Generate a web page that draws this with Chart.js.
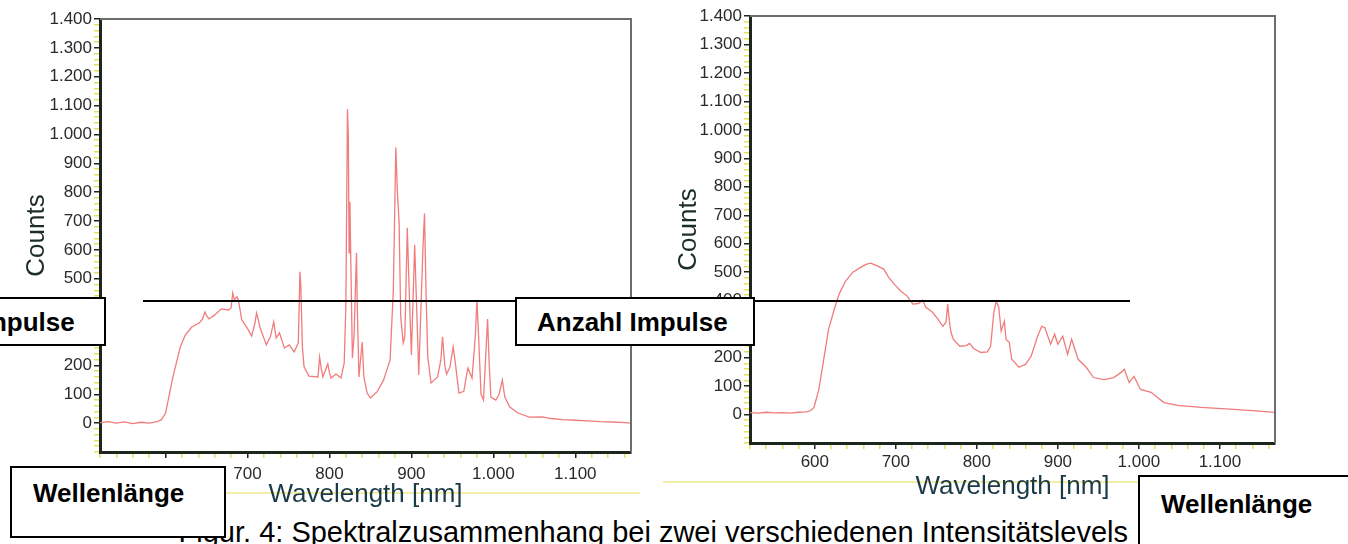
<!DOCTYPE html>
<html>
<head>
<meta charset="utf-8">
<script src="https://cdn.jsdelivr.net/npm/chart.js@4.4.1/dist/chart.umd.min.js"></script>
<style>
  body { margin: 0; background: #fff; }
  #wrap { position: relative; width: 1348px; height: 544px; overflow: hidden; font-family: "Liberation Sans", Arial, sans-serif; }
  canvas { position: absolute; top: 0; }
  .rule { position: absolute; }
  .box { position: absolute; background: #fff; border: 2px solid #000; box-sizing: border-box; font-weight: bold; font-size: 26px; color: #000; white-space: nowrap; }
  .caption { position: absolute; font-size: 29px; line-height: 29px; color: #000; white-space: nowrap; }
</style>
</head>
<body>
<div id="wrap">
  <div class="rule" style="left:10px; top:492px; width:630px; height:2px; background:#f4efa6;"></div>
  <div class="rule" style="left:663px; top:481px; width:627px; height:2px; background:#f4efa6;"></div>
  <canvas id="leftChart" width="650" height="510" style="left:0;"></canvas>
  <canvas id="rightChart" width="698" height="500" style="left:650px;"></canvas>
  <div class="caption" style="right:220px; top:518px;">Figur. 4: Spektralzusammenhang bei zwei verschiedenen Intensitätslevels</div>
  <div class="rule" style="left:143px; top:300px; width:987px; height:2px; background:#000;"></div>
  <div class="box" style="left:-138px; top:297px; width:244px; height:49px; padding:8px 0 0 20px;">Anzahl Impulse</div>
  <div class="box" style="left:515px; top:297px; width:240px; height:49px; padding:8px 0 0 20px;">Anzahl Impulse</div>
  <div class="box" style="left:10px; top:466px; width:216px; height:72px; padding:10px 0 0 21px;">Wellenlänge</div>
  <div class="box" style="left:1138px; top:475px; width:220px; height:80px; padding:12px 0 0 21px;">Wellenlänge</div>
</div>
<script>
// spectrum 1 (higher intensity, line peaks)
var leftWavelength = [520, 530, 540, 550, 560, 570, 580, 590, 595, 600, 605, 609, 612, 618, 624, 632, 641, 645, 648, 650, 653, 660, 668, 677, 680, 682, 684, 687, 689, 693, 701, 705, 709, 711, 713, 715, 723, 728, 732, 735, 739, 745, 751, 757, 762, 764, 765, 767, 769, 775, 786, 788, 790, 792, 796, 798, 800, 802, 808, 814, 818, 820, 822, 823, 824, 825, 826, 828, 830, 833, 834, 836, 840, 842, 846, 850, 858, 866, 874, 878, 881, 883, 885, 887, 890, 892, 895, 897, 900, 904, 906, 909, 914, 916, 918, 920, 924, 932, 936, 938, 941, 943, 947, 951, 954, 958, 964, 967, 969, 974, 978, 980, 982, 985, 988, 991, 993, 995, 997, 1003, 1007, 1011, 1014, 1020, 1030, 1044, 1060, 1070, 1085, 1100, 1115, 1130, 1145, 1160, 1168];
var leftCounts = [2, 5, 0, 4, -2, 3, 0, 5, 12, 35, 104, 160, 195, 264, 305, 333, 347, 360, 385, 372, 361, 375, 396, 392, 400, 451, 427, 438, 425, 358, 323, 302, 345, 382, 360, 333, 271, 300, 351, 295, 313, 260, 271, 247, 278, 524, 480, 264, 195, 163, 160, 229, 190, 160, 190, 205, 175, 156, 170, 156, 208, 400, 1087, 1000, 590, 767, 576, 226, 300, 590, 400, 160, 281, 160, 104, 87, 108, 149, 219, 462, 955, 800, 694, 368, 278, 300, 677, 486, 236, 618, 438, 167, 600, 726, 438, 229, 139, 160, 220, 299, 194, 170, 194, 264, 200, 104, 110, 160, 191, 156, 300, 427, 300, 100, 80, 250, 361, 200, 90, 80, 100, 149, 90, 56, 35, 21, 22, 16, 12, 10, 8, 5, 4, 2, 0];

// spectrum 2 (lower intensity, broad)
var rightWavelength = [520, 530, 540, 550, 560, 570, 580, 590, 595, 599, 605, 611, 617, 624, 630, 638, 647, 657, 664, 669, 677, 685, 691, 698, 706, 714, 721, 728, 733, 737, 745, 752, 758, 762, 764, 766, 768, 771, 779, 787, 791, 796, 805, 813, 817, 821, 824, 827, 830, 834, 836, 840, 843, 852, 860, 867, 875, 880, 884, 891, 896, 900, 906, 912, 917, 925, 935, 944, 957, 969, 978, 982, 988, 994, 1002, 1015, 1031, 1048, 1077, 1117, 1140, 1169];
var rightCounts = [7, 5, 8, 6, 7, 5, 8, 9, 14, 25, 88, 194, 300, 370, 423, 469, 500, 518, 528, 532, 522, 511, 483, 458, 434, 416, 388, 390, 402, 377, 360, 335, 310, 325, 388, 330, 290, 264, 240, 242, 250, 232, 218, 220, 240, 360, 398, 377, 293, 328, 264, 254, 194, 166, 176, 205, 275, 310, 305, 247, 282, 247, 275, 212, 264, 194, 166, 130, 123, 130, 148, 159, 113, 134, 88, 78, 42, 32, 25, 18, 14, 7];

var wavelengthRange = [520, 1168];
var countsRange = [-100, 1400];

function dotted(v) {
    return String(v).replace(/\B(?=(\d{3})+(?!\d))/g, '.');
}

function toPoints(xs, ys) {
    return xs.map(function (x, i) { return { x: x, y: ys[i] }; });
}

// top and right edge of the plot frame
var framePlugin = {
    id: 'frame',
    afterDraw: function (chart) {
        var a = chart.chartArea, ctx = chart.ctx;
        ctx.save();
        ctx.strokeStyle = '#6a6f6a';
        ctx.lineWidth = 2;
        ctx.beginPath();
        ctx.moveTo(a.left, a.top);
        ctx.lineTo(a.right, a.top);
        ctx.lineTo(a.right, a.bottom);
        ctx.stroke();
        ctx.restore();
    }
};

function makeChart(id, xs, ys, pad, xHeight, titlePad, countsPad, xLabelPad) {
    var ctx = document.getElementById(id).getContext('2d');
    return new Chart(ctx, {
        type: 'line',
        data: {
            datasets: [{
                data: toPoints(xs, ys),
                borderColor: '#f07c7c',
                borderWidth: 1.3,
                pointRadius: 0,
                tension: 0,
                fill: false
            }]
        },
        options: {
            responsive: false,
            animation: false,
            layout: { padding: pad },
            plugins: { legend: { display: false }, tooltip: { enabled: false } },
            scales: {
                x: {
                    type: 'linear',
                    min: wavelengthRange[0],
                    max: wavelengthRange[1],
                    afterFit: function (s) { s.height = xHeight; },
                    border: { color: '#1c261c', width: 3 },
                    grid: {
                        drawOnChartArea: false,
                        tickLength: 6,
                        lineWidth: 1.5,
                        tickColor: function (c) { return c.tick && c.tick.value % 100 === 0 ? '#1c261c' : '#e6df5a'; }
                    },
                    ticks: {
                        stepSize: 20,
                        includeBounds: false,
                        autoSkip: false,
                        maxRotation: 0,
                        padding: xLabelPad,
                        color: '#2a2a2a',
                        font: { family: 'Liberation Sans', size: 17 },
                        callback: function (v) { return v % 100 === 0 ? dotted(v) : ''; }
                    },
                    title: {
                        display: true,
                        text: 'Wavelength [nm]',
                        color: '#1b3a48',
                        font: { family: 'Liberation Sans', size: 26, lineHeight: 1 },
                        padding: { top: 0, bottom: titlePad }
                    }
                },
                y: {
                    min: countsRange[0],
                    max: countsRange[1],
                    afterFit: function (s) { s.width = 100; },
                    border: { color: '#1c261c', width: 3 },
                    grid: {
                        drawOnChartArea: false,
                        tickLength: 6,
                        lineWidth: 1.5,
                        tickColor: function (c) { return c.tick && c.tick.value % 100 === 0 && c.tick.value >= 0 ? '#1c261c' : '#e6df5a'; }
                    },
                    ticks: {
                        stepSize: 20,
                        autoSkip: false,
                        padding: 2,
                        color: '#2a2a2a',
                        font: { family: 'Liberation Sans', size: 17 },
                        callback: function (v) { return v % 100 === 0 && v >= 0 ? dotted(v) : ''; }
                    },
                    title: {
                        display: true,
                        text: 'Counts',
                        color: '#1d2e27',
                        font: { family: 'Liberation Sans', size: 26, lineHeight: 1 },
                        padding: { top: countsPad, bottom: 0 }
                    }
                }
            }
        },
        plugins: [framePlugin]
    });
}

document.addEventListener('DOMContentLoaded', function () {
    makeChart('leftChart', leftWavelength, leftCounts, { top: 19, right: 19, left: 0, bottom: 0 }, 58, 2, 24, 6);
    makeChart('rightChart', rightWavelength, rightCounts, { top: 16, right: 73, left: 0, bottom: 0 }, 57, 0, 26, 3);
});
</script>
</body>
</html>
